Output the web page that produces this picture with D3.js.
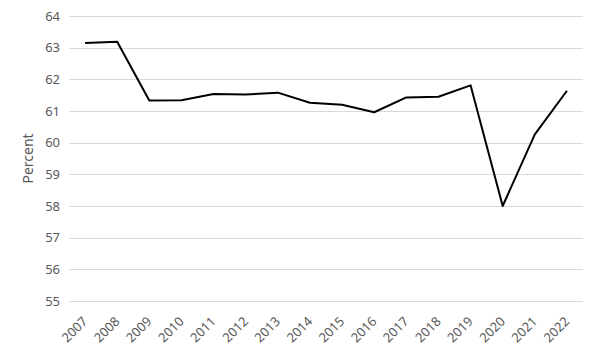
<!DOCTYPE html>
<html>
<head>
<meta charset="utf-8">
<script src="https://cdn.jsdelivr.net/npm/d3@7"></script>
<style>
	body { margin: 0; background: #fff; }
	text { font-family: "Noto Sans", "Open Sans", sans-serif; }
</style>
</head>
<body>
<div id="chart"></div>
<script>
var years = ["2007", "2008", "2009", "2010", "2011", "2012", "2013", "2014",
	"2015", "2016", "2017", "2018", "2019", "2020", "2021", "2022"];
var percent = [63.15, 63.19, 61.33, 61.34, 61.54, 61.52, 61.58, 61.26,
	61.20, 60.96, 61.43, 61.45, 61.81, 58.00, 60.26, 61.64];
var yTicks = [55, 56, 57, 58, 59, 60, 61, 62, 63, 64];

var width = 600, height = 360;
var margin = { top: 16, right: 17, bottom: 59, left: 69 };

var svg = d3.select("#chart")
	.append("svg")
	.attr("width", width)
	.attr("height", height);

var x = d3.scaleBand()
	.domain(years)
	.range([margin.left, width - margin.right]);

var y = d3.scaleLinear()
	.domain([55, 64])
	.range([height - margin.bottom, margin.top]);

// gridlines
svg.append("g")
	.selectAll("line")
	.data(yTicks)
	.enter().append("line")
	.attr("x1", margin.left)
	.attr("x2", width - margin.right)
	.attr("y1", function (d) { return Math.round(y(d)) + 0.5; })
	.attr("y2", function (d) { return Math.round(y(d)) + 0.5; })
	.attr("stroke", "#d9d9d9")
	.attr("stroke-width", 1);

// y axis labels
var yAxis = svg.append("g")
	.attr("transform", "translate(" + margin.left + ",0)")
	.call(d3.axisLeft(y).tickValues(yTicks).tickSize(0).tickPadding(9));
yAxis.select(".domain").remove();
yAxis.selectAll("text")
	.attr("fill", "#595959")
	.style("font-size", "13px");

// x axis labels
var xAxis = svg.append("g")
	.attr("transform", "translate(0," + (height - margin.bottom) + ")")
	.call(d3.axisBottom(x).tickSize(0).tickPadding(0));
xAxis.select(".domain").remove();
xAxis.selectAll("text")
	.attr("fill", "#595959")
	.style("font-size", "13px")
	.attr("text-anchor", "end")
	.attr("dy", "0.35em")
	.attr("transform", "translate(0,18) rotate(-45)");

// axis title
svg.append("text")
	.attr("transform", "translate(33," + (margin.top + (height - margin.top - margin.bottom) / 2) + ") rotate(-90)")
	.attr("text-anchor", "middle")
	.attr("fill", "#595959")
	.style("font-size", "14px")
	.text("Percent");

// line
var line = d3.line()
	.x(function (d, i) { return x(years[i]) + x.bandwidth() / 2; })
	.y(function (d) { return y(d); });

svg.append("path")
	.datum(percent)
	.attr("d", line)
	.attr("fill", "none")
	.attr("stroke", "#000")
	.attr("stroke-width", 2)
	.attr("stroke-linejoin", "round");
</script>
</body>
</html>
